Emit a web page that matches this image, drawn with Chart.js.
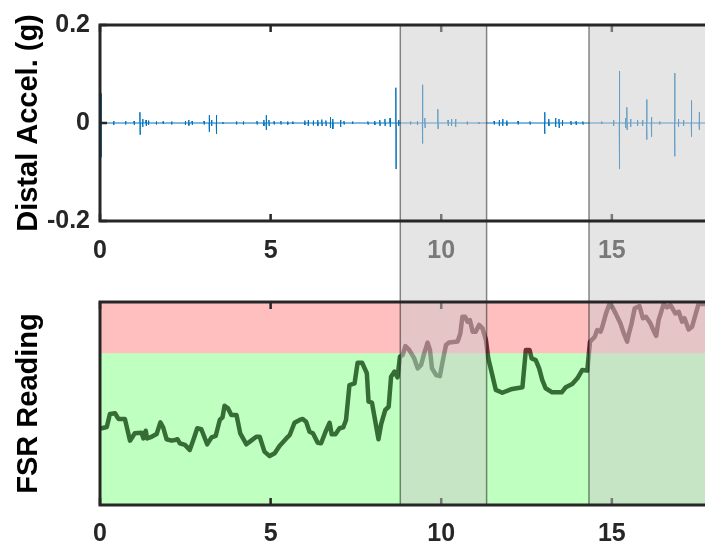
<!DOCTYPE html>
<html>
<head>
<meta charset="utf-8">
<script src="https://cdn.jsdelivr.net/npm/chart.js@4.4.0/dist/chart.umd.min.js"></script>
<style>
  html, body { margin: 0; padding: 0; background: #ffffff; overflow: hidden; }
  #wrap { position: relative; width: 705px; height: 543px; }
  #accel { position: absolute; left: 0; top: 0; }
  #fsr { position: absolute; left: 0; top: 265px; }
</style>
</head>
<body>
<div id="wrap">
  <canvas id="accel" width="705" height="265"></canvas>
  <canvas id="fsr" width="705" height="278"></canvas>
</div>
<script>
// ---- time axis ----
const timeTicks = [0, 5, 10, 15];
const timeMax = 17.73;

// ---- distal accelerometer (g) ----
const accelTicks = [-0.2, 0, 0.2];
const accelTickLabels = ['-0.2', '0', '0.2'];
// each burst: time (s), positive peak (g), negative peak (g)
const burstTime = [0.00, 0.03, 0.40, 0.75, 1.00, 1.17, 1.25, 1.35, 1.42, 1.65, 1.85, 2.10, 2.50, 2.60, 2.70,
  3.05, 3.20, 3.27, 3.41, 3.60, 4.00, 4.20, 4.60, 4.80, 4.87, 4.95, 5.10, 5.30, 5.50, 5.65,
  6.00, 6.10, 6.25, 6.38, 6.50, 6.62, 6.75, 6.82, 7.05, 7.15, 7.40, 7.85, 8.05, 8.20, 8.35, 8.50,
  8.67, 8.75, 9.10, 9.30, 9.45, 9.52, 9.90, 10.20, 10.30, 10.42, 10.76, 11.10, 11.55, 11.70, 11.80,
  11.92, 12.25, 12.60, 13.03, 13.15, 13.35, 13.45, 13.55, 13.80, 13.95, 14.15, 14.70, 15.05, 15.22,
  15.40, 15.44, 15.55, 15.75, 15.90, 16.02, 16.16, 16.40, 16.84, 16.95, 17.10, 17.33, 17.56];
const burstUp = [0.086, 0.060, 0.004, 0.004, 0.004, 0.022, 0.008, 0.006, 0.005, 0.003, 0.003, 0.003, 0.004, 0.006, 0.004,
  0.004, 0.016, 0.006, 0.016, 0.002, 0.003, 0.003, 0.004, 0.006, 0.016, 0.006, 0.003, 0.004, 0.003, 0.003,
  0.005, 0.006, 0.005, 0.006, 0.007, 0.005, 0.012, 0.008, 0.006, 0.004, 0.003, 0.003, 0.004, 0.006, 0.008, 0.010,
  0.072, 0.006, 0.003, 0.004, 0.078, 0.010, 0.028, 0.006, 0.008, 0.008, 0.003, 0.002, 0.004, 0.006, 0.008,
  0.005, 0.004, 0.003, 0.022, 0.008, 0.010, 0.008, 0.006, 0.004, 0.003, 0.003, 0.003, 0.006, 0.106,
  0.010, 0.032, 0.008, 0.006, 0.006, 0.048, 0.012, 0.003, 0.102, 0.008, 0.006, 0.046, 0.022];
const burstDown = [0.084, 0.070, 0.004, 0.003, 0.004, 0.024, 0.008, 0.006, 0.004, 0.003, 0.002, 0.003, 0.004, 0.005, 0.004,
  0.003, 0.018, 0.006, 0.022, 0.002, 0.003, 0.003, 0.003, 0.006, 0.014, 0.006, 0.003, 0.003, 0.003, 0.002,
  0.004, 0.006, 0.005, 0.006, 0.006, 0.006, 0.010, 0.012, 0.008, 0.003, 0.002, 0.003, 0.004, 0.006, 0.006, 0.008,
  0.094, 0.006, 0.003, 0.004, 0.042, 0.010, 0.012, 0.006, 0.006, 0.008, 0.003, 0.002, 0.003, 0.006, 0.006,
  0.005, 0.003, 0.003, 0.022, 0.006, 0.008, 0.010, 0.006, 0.004, 0.004, 0.003, 0.002, 0.006, 0.094,
  0.010, 0.014, 0.008, 0.006, 0.006, 0.034, 0.028, 0.003, 0.068, 0.008, 0.006, 0.028, 0.014];

// ---- FSR reading (normalised) ----
const fsrTime = [0, 0.05, 0.2, 0.29, 0.44, 0.54, 0.73, 0.88, 1.02, 1.22, 1.27, 1.34, 1.38, 1.51, 1.66, 1.77, 1.85,
  1.95, 2.1, 2.19, 2.27, 2.34, 2.49, 2.63, 2.75, 2.85, 2.97, 3.14, 3.27, 3.39, 3.51, 3.59, 3.65, 3.75, 3.85,
  4.0, 4.11, 4.29, 4.43, 4.58, 4.68, 4.82, 4.97, 5.12, 5.26, 5.46, 5.56, 5.7, 5.85, 5.94, 6.04, 6.14, 6.24,
  6.38, 6.48, 6.61, 6.73, 6.79, 6.9, 7.02, 7.13, 7.21, 7.31, 7.46, 7.55, 7.68, 7.82, 7.87, 7.97, 8.07, 8.16,
  8.24, 8.36, 8.46, 8.53, 8.63, 8.72, 8.79, 8.87, 8.95, 9.06, 9.21, 9.31, 9.41, 9.5, 9.6, 9.67, 9.73, 9.85,
  9.96, 10.04, 10.14, 10.23, 10.48, 10.56, 10.62, 10.7, 10.77, 10.84, 10.92, 11.01, 11.11, 11.21, 11.31,
  11.38, 11.45, 11.6, 11.79, 12.04, 12.38, 12.43, 12.48, 12.59, 12.65, 12.77, 12.87, 12.96, 13.06, 13.25,
  13.53, 13.65, 13.84, 13.99, 14.13, 14.28, 14.36, 14.41, 14.5, 14.57, 14.67, 14.72, 14.83, 14.93, 15.01,
  15.11, 15.25, 15.35, 15.45, 15.5, 15.58, 15.67, 15.81, 15.91, 16.0, 16.13, 16.26, 16.3, 16.37, 16.52,
  16.62, 16.72, 16.86, 16.96, 17.06, 17.13, 17.25, 17.35, 17.45, 17.54, 17.73];
const fsrValue = [0.378, 0.378, 0.384, 0.448, 0.452, 0.424, 0.424, 0.317, 0.353, 0.356, 0.328, 0.366, 0.328, 0.336,
  0.350, 0.407, 0.383, 0.324, 0.317, 0.320, 0.324, 0.304, 0.296, 0.271, 0.328, 0.378, 0.373, 0.299, 0.333,
  0.340, 0.419, 0.432, 0.489, 0.476, 0.443, 0.443, 0.353, 0.299, 0.317, 0.336, 0.336, 0.263, 0.241, 0.255,
  0.291, 0.328, 0.345, 0.405, 0.419, 0.424, 0.410, 0.361, 0.353, 0.307, 0.304, 0.361, 0.405, 0.348, 0.348,
  0.378, 0.383, 0.419, 0.591, 0.599, 0.701, 0.701, 0.649, 0.509, 0.504, 0.410, 0.324, 0.399, 0.468, 0.484,
  0.632, 0.657, 0.629, 0.731, 0.739, 0.783, 0.764, 0.722, 0.673, 0.690, 0.747, 0.800, 0.764, 0.673, 0.640,
  0.635, 0.706, 0.788, 0.801, 0.805, 0.845, 0.927, 0.927, 0.903, 0.911, 0.854, 0.854, 0.887, 0.870, 0.813,
  0.722, 0.673, 0.567, 0.553, 0.570, 0.580, 0.673, 0.764, 0.764, 0.722, 0.714, 0.673, 0.616, 0.575, 0.555,
  0.555, 0.580, 0.596, 0.624, 0.665, 0.662, 0.805, 0.813, 0.829, 0.862, 0.854, 0.878, 0.944, 0.990, 0.977,
  0.944, 0.895, 0.845, 0.805, 0.845, 0.895, 0.969, 0.980, 0.920, 0.927, 0.895, 0.845, 0.833, 0.911, 0.990,
  0.974, 0.985, 0.944, 0.952, 0.903, 0.920, 0.865, 0.878, 0.936, 0.990, 0.990];
const fsrLimit = 0.747;   // boundary between the safe (green) and overload (red) zones

// ---- highlighted intervals (s) ----
const shadeStart = [8.80, 14.33];
const shadeEnd = [11.33, 18.5];

// ---- styling ----
const AXIS = '#262626';
const FONT = "'Liberation Sans', Arial, Helvetica, sans-serif";
const tickFont = { family: FONT, size: 25, weight: 'bold' };
const titleFont = { family: FONT, size: 29, weight: 'bold' };

// accelerometer trace: flat baseline with a short up/down swing at every burst
const accelPoints = [{ x: 0, y: 0 }];
burstTime.forEach((t, i) => {
  accelPoints.push({ x: t - 0.004, y: 0 });
  accelPoints.push({ x: t, y: burstUp[i] });
  accelPoints.push({ x: t + 0.006, y: -burstDown[i] });
  accelPoints.push({ x: t + 0.010, y: 0 });
});
accelPoints.push({ x: timeMax, y: 0 });

const fsrPoints = fsrTime.map((t, i) => ({ x: t, y: fsrValue[i] }));

// inward ticks, translucent grey intervals and the axes box
const boxPlugin = {
  id: 'box',
  afterDraw(chart, args, opts) {
    const { ctx, chartArea: a, scales } = chart;
    const xs = scales.x, ys = scales.y;
    ctx.save();
    ctx.strokeStyle = AXIS;
    ctx.lineWidth = 2.5;
    ctx.beginPath();
    xs.ticks.forEach(t => {
      const px = xs.getPixelForValue(t.value);
      ctx.moveTo(px, a.top); ctx.lineTo(px, a.top + 7);
      ctx.moveTo(px, a.bottom); ctx.lineTo(px, a.bottom - 7);
    });
    if (opts.yTicks) {
      ys.ticks.forEach(t => {
        const py = ys.getPixelForValue(t.value);
        ctx.moveTo(a.left, py); ctx.lineTo(a.left + 7, py);
      });
    }
    ctx.stroke();

    const y0 = opts.shadeUp ? 0 : a.top;
    const y1 = opts.shadeUp ? a.bottom : chart.height;
    shadeStart.forEach((s, i) => {
      const p0 = xs.getPixelForValue(s);
      const p1 = xs.getPixelForValue(shadeEnd[i]);
      ctx.fillStyle = 'rgba(204,204,204,0.5)';
      ctx.fillRect(p0, y0, p1 - p0, y1 - y0);
      ctx.strokeStyle = 'rgba(0,0,0,0.45)';
      ctx.lineWidth = 1.5;
      ctx.beginPath();
      ctx.moveTo(p0, y0); ctx.lineTo(p0, y1);
      ctx.moveTo(p1, y0); ctx.lineTo(p1, y1);
      ctx.stroke();
    });

    ctx.strokeStyle = AXIS;
    ctx.lineWidth = 3;
    ctx.beginPath();
    ctx.moveTo(a.right + 5, a.top);
    ctx.lineTo(a.left, a.top);
    ctx.lineTo(a.left, a.bottom);
    ctx.lineTo(a.right + 5, a.bottom);
    ctx.stroke();
    ctx.restore();
  }
};

function timeAxis(height, pad) {
  return {
    type: 'linear', min: 0, max: timeMax,
    grid: { display: false, drawTicks: false }, border: { display: false },
    afterBuildTicks: s => { s.ticks = timeTicks.map(v => ({ value: v })); },
    afterFit: s => { s.height = height; },
    ticks: { font: tickFont, color: AXIS, padding: pad, maxRotation: 0, autoSkip: false,
      callback: v => String(v) }
  };
}

const common = {
  responsive: false, animation: false, devicePixelRatio: 1,
  events: [],
  plugins: { legend: { display: false }, tooltip: { enabled: false } },
  elements: { point: { radius: 0 } }
};

new Chart(document.getElementById('accel'), {
  type: 'line',
  data: { datasets: [{
    data: accelPoints, borderColor: '#0072BD', borderWidth: 1, fill: false, tension: 0
  }] },
  options: Object.assign({}, common, {
    layout: { padding: { top: 20, left: 0, right: 0, bottom: 0 } },
    scales: {
      x: timeAxis(44, 15),
      y: {
        min: -0.2, max: 0.2,
        grid: { display: false, drawTicks: false }, border: { display: false },
        afterBuildTicks: s => { s.ticks = accelTicks.map(v => ({ value: v })); },
        afterFit: s => { s.width = 100; },
        ticks: { font: tickFont, color: AXIS, padding: 10, callback: (v, i) => accelTickLabels[i] },
        title: { display: true, text: 'Distal Accel. (g)', font: titleFont, color: '#000000',
          padding: { top: 12, bottom: 0 } }
      }
    },
    plugins: Object.assign({}, common.plugins, { box: { yTicks: true, shadeUp: false } })
  }),
  plugins: [boxPlugin]
});

new Chart(document.getElementById('fsr'), {
  type: 'line',
  data: { datasets: [
    { // overload zone, laid over the trace
      data: [{ x: 0, y: 1 }, { x: timeMax, y: 1 }], borderWidth: 0, borderColor: 'rgba(0,0,0,0)',
      backgroundColor: 'rgba(255,0,0,0.25)', fill: { value: fsrLimit }, order: 1
    },
    { // safe zone, laid over the trace
      data: [{ x: 0, y: fsrLimit }, { x: timeMax, y: fsrLimit }], borderWidth: 0, borderColor: 'rgba(0,0,0,0)',
      backgroundColor: 'rgba(0,255,0,0.25)', fill: { value: 0 }, order: 1
    },
    {
      data: fsrPoints, borderColor: 'rgb(73,61,73)', borderWidth: 4.5, fill: false, tension: 0,
      borderJoinStyle: 'round', borderCapStyle: 'round', order: 2
    }
  ] },
  options: Object.assign({}, common, {
    layout: { padding: { top: 37, left: 0, right: 0, bottom: 0 } },
    scales: {
      x: timeAxis(38, 14),
      y: {
        min: 0, max: 1,
        grid: { display: false, drawTicks: false }, border: { display: false },
        ticks: { display: false },
        afterFit: s => { s.width = 100; },
        title: { display: true, text: 'FSR Reading', font: titleFont, color: '#000000',
          padding: { top: 12, bottom: 0 } }
      }
    },
    plugins: Object.assign({}, common.plugins, { box: { yTicks: false, shadeUp: true } })
  }),
  plugins: [boxPlugin]
});
</script>
</body>
</html>
